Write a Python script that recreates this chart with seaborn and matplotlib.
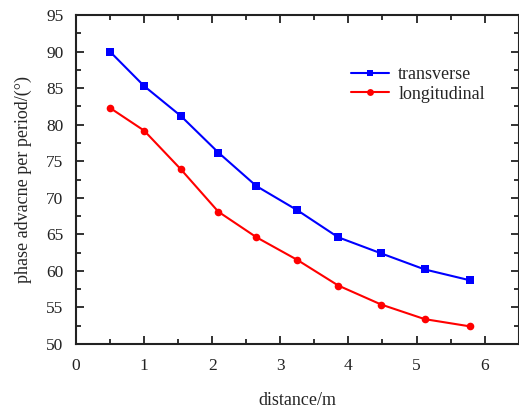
import numpy as np
import pandas as pd
import matplotlib
from matplotlib import pyplot as plt
from matplotlib.ticker import MultipleLocator
import seaborn as sns

sns.set_style('ticks')
matplotlib.rcParams['font.family'] = ['Liberation Serif', 'DejaVu Serif']

distance = [0.5, 1.0, 1.54, 2.09, 2.65, 3.25, 3.85, 4.48, 5.12, 5.79]
transverse = [90.0, 85.3, 81.2, 76.2, 71.6, 68.3, 64.6, 62.4, 60.2, 58.7]
longitudinal = [82.3, 79.2, 73.9, 68.1, 64.6, 61.5, 58.0, 55.4, 53.4, 52.4]

df = pd.DataFrame({'distance': distance * 2,
                   'phase': transverse + longitudinal,
                   'mode': ['transverse'] * len(distance) + ['longitudinal'] * len(distance)})

fig = plt.figure(figsize=(5.19, 4.09), dpi=100)
ax = fig.add_axes([0.1464, 0.159, 0.853, 0.804])

sns.lineplot(data=df, x='distance', y='phase', hue='mode', style='mode',
             palette={'transverse': '#0000ff', 'longitudinal': '#ff0000'},
             markers={'transverse': 's', 'longitudinal': 'o'},
             dashes=False, markersize=5.5, markeredgewidth=0, linewidth=1.5,
             ax=ax, sort=False)

ax.set_xlim(0, 6.5)
ax.set_ylim(50, 95)
ax.xaxis.set_major_locator(MultipleLocator(1))
ax.xaxis.set_minor_locator(MultipleLocator(0.5))
ax.yaxis.set_major_locator(MultipleLocator(5))
ax.yaxis.set_minor_locator(MultipleLocator(2.5))
ax.tick_params(which='both', direction='in', top=True, right=True, width=1.3,
               labelsize=12.5, colors='#222222', labelcolor='#222222')
ax.tick_params(axis='x', which='major', length=6, pad=10)
ax.tick_params(axis='y', which='major', length=6, pad=9)
ax.tick_params(which='minor', length=3.5)
for s in ax.spines.values():
    s.set_linewidth(1.5)
    s.set_color('#222222')

ax.set_xlabel('distance/m', fontsize=13, labelpad=13)
ax.set_ylabel('phase advacne per period/(°)', fontsize=13, labelpad=10)

ax.legend(title=None, frameon=False, loc='upper left', bbox_to_anchor=(0.585, 0.895),
          fontsize=13, handlelength=2.1, handletextpad=0.5, labelspacing=0.15,
          markerscale=0.9)

plt.savefig('out.png', dpi=100)
